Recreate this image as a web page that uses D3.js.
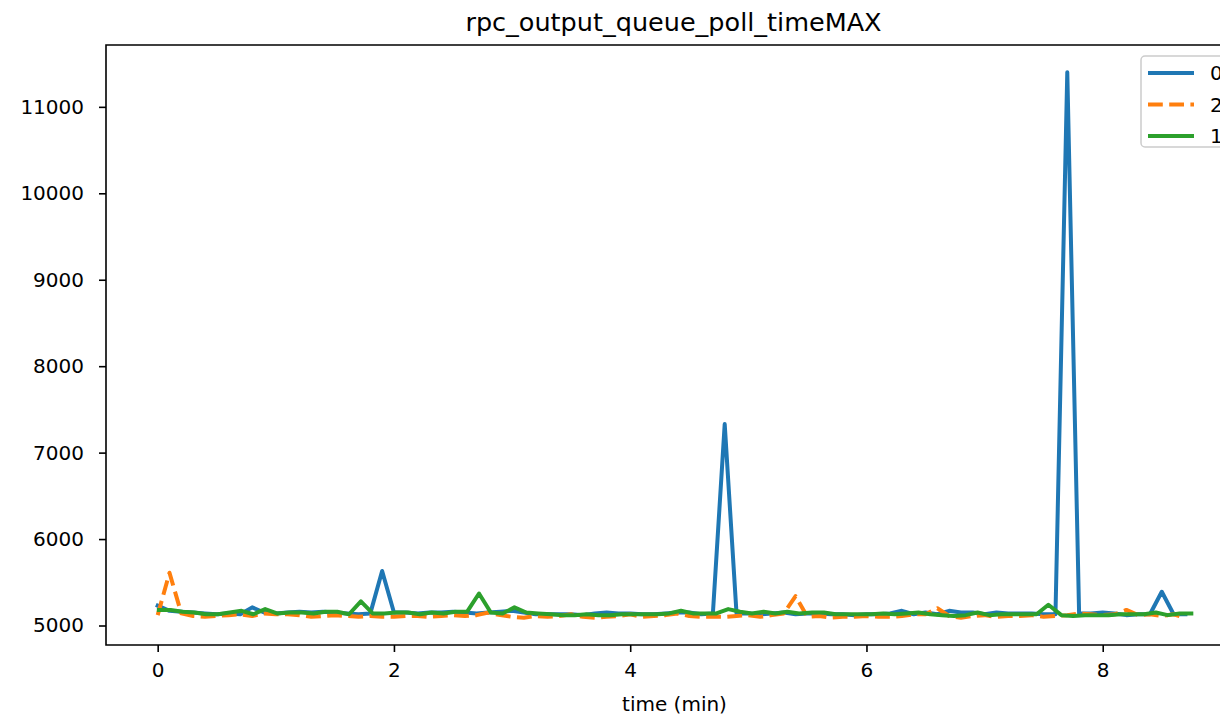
<!DOCTYPE html>
<html>
<head>
<meta charset="utf-8">
<script src="https://cdn.jsdelivr.net/npm/d3@7"></script>
<style>
  html, body { margin: 0; padding: 0; background: #ffffff; }
  svg { display: block; font-family: "DejaVu Sans", sans-serif; }
</style>
</head>
<body>
<svg id="chart" width="1220" height="715"></svg>
<script>
const chartTitle = "rpc_output_queue_poll_timeMAX";
const xLabel = "time (min)";
const seriesNames = ["0", "2", "1"];
const seriesColors = ["#1f77b4", "#ff7f0e", "#2ca02c"];
const xTicks = [0, 2, 4, 6, 8];
const yTicks = [5000, 6000, 7000, 8000, 9000, 10000, 11000];

// time (min) for series "0" and "2"
const timesA = [0, 0.1, 0.2, 0.3, 0.4, 0.5, 0.6, 0.7, 0.8, 0.9,
  1.0, 1.1, 1.2, 1.3, 1.4, 1.5, 1.6, 1.7, 1.8, 1.9,
  2.0, 2.1, 2.2, 2.3, 2.4, 2.5, 2.6, 2.7, 2.8, 2.9,
  3.0, 3.1, 3.2, 3.3, 3.4, 3.5, 3.6, 3.7, 3.8, 3.9,
  4.0, 4.1, 4.2, 4.3, 4.4, 4.5, 4.6, 4.7, 4.8, 4.9,
  5.0, 5.1, 5.2, 5.3, 5.4, 5.5, 5.6, 5.7, 5.8, 5.9,
  6.0, 6.1, 6.2, 6.3, 6.4, 6.5, 6.6, 6.7, 6.8, 6.9,
  7.0, 7.1, 7.2, 7.3, 7.4, 7.5, 7.6, 7.7, 7.8, 7.9,
  8.0, 8.1, 8.2, 8.3, 8.4, 8.5, 8.6, 8.7];

// time (min) for series "1"
const timesB = [0.01, 0.11, 0.21, 0.31, 0.41, 0.51, 0.61, 0.71, 0.81, 0.91,
  1.01, 1.12, 1.22, 1.32, 1.42, 1.52, 1.62, 1.72, 1.82, 1.92,
  2.02, 2.12, 2.22, 2.32, 2.42, 2.52, 2.62, 2.72, 2.82, 2.92,
  3.02, 3.12, 3.22, 3.33, 3.43, 3.53, 3.63, 3.73, 3.83, 3.93,
  4.03, 4.13, 4.23, 4.33, 4.43, 4.53, 4.63, 4.73, 4.83, 4.93,
  5.03, 5.13, 5.23, 5.33, 5.43, 5.54, 5.64, 5.74, 5.84, 5.94,
  6.04, 6.14, 6.24, 6.34, 6.44, 6.54, 6.64, 6.74, 6.84, 6.94,
  7.04, 7.14, 7.24, 7.34, 7.44, 7.54, 7.65, 7.75, 7.85, 7.95,
  8.05, 8.15, 8.25, 8.35, 8.45, 8.55, 8.65, 8.75];

const values0 = [5230, 5170, 5160, 5150, 5140, 5130, 5140, 5130, 5210, 5150,
  5140, 5150, 5160, 5150, 5160, 5150, 5140, 5130, 5140, 5630,
  5150, 5150, 5140, 5150, 5150, 5160, 5150, 5140, 5150, 5160,
  5170, 5150, 5130, 5130, 5130, 5130, 5120, 5140, 5150, 5140,
  5140, 5130, 5130, 5140, 5150, 5150, 5130, 5140, 7330, 5140,
  5140, 5130, 5140, 5150, 5130, 5140, 5140, 5130, 5130, 5120,
  5130, 5130, 5140, 5170, 5130, 5150, 5130, 5170, 5150, 5150,
  5130, 5150, 5140, 5140, 5140, 5130, 5130, 11400, 5140, 5140,
  5150, 5140, 5120, 5130, 5130, 5390, 5130, 5130];

const values2 = [5120, 5610, 5140, 5110, 5100, 5110, 5120, 5130, 5110, 5140,
  5130, 5130, 5120, 5100, 5110, 5120, 5110, 5100, 5110, 5100,
  5100, 5110, 5110, 5100, 5110, 5120, 5110, 5120, 5150, 5120,
  5100, 5090, 5110, 5100, 5110, 5130, 5100, 5090, 5100, 5110,
  5130, 5100, 5110, 5120, 5140, 5110, 5100, 5100, 5100, 5110,
  5120, 5100, 5120, 5140, 5340, 5100, 5110, 5090, 5100, 5100,
  5110, 5100, 5100, 5110, 5130, 5130, 5200, 5110, 5090, 5110,
  5120, 5100, 5110, 5110, 5120, 5100, 5110, 5120, 5140, 5130,
  5120, 5130, 5180, 5120, 5130, 5110, 5130, 5090];

const values1 = [5180, 5180, 5160, 5150, 5130, 5130, 5150, 5170, 5130, 5190,
  5140, 5150, 5150, 5140, 5160, 5160, 5130, 5280, 5140, 5140,
  5150, 5150, 5130, 5150, 5140, 5160, 5160, 5370, 5150, 5140,
  5210, 5150, 5140, 5130, 5120, 5120, 5130, 5120, 5120, 5130,
  5130, 5130, 5130, 5140, 5170, 5140, 5140, 5140, 5190, 5160,
  5140, 5160, 5140, 5160, 5140, 5150, 5150, 5130, 5130, 5130,
  5130, 5140, 5130, 5140, 5150, 5130, 5120, 5110, 5120, 5150,
  5120, 5130, 5130, 5130, 5130, 5240, 5120, 5110, 5120, 5120,
  5120, 5130, 5130, 5130, 5150, 5120, 5140, 5140];

const series = [
  { name: seriesNames[0], color: seriesColors[0], dash: null, times: timesA, values: values0 },
  { name: seriesNames[1], color: seriesColors[1], dash: "14.8,6.4", times: timesA, values: values2 },
  { name: seriesNames[2], color: seriesColors[2], dash: null, times: timesB, values: values1 }
];

const svg = d3.select("#chart");
const plot = { left: 106, top: 45, bottom: 645, right: 1243 };

const allT = series.flatMap(s => s.times);
const allV = series.flatMap(s => s.values);
const [tMin, tMax] = d3.extent(allT);
const [vMin, vMax] = d3.extent(allV);
const tPad = (tMax - tMin) * 0.05, vPad = (vMax - vMin) * 0.05;

const x = d3.scaleLinear().domain([tMin - tPad, tMax + tPad]).range([plot.left, plot.right]);
const y = d3.scaleLinear().domain([vMin - vPad, vMax + vPad]).range([plot.bottom, plot.top]);

svg.append("defs").append("clipPath").attr("id", "clip")
  .append("rect").attr("x", plot.left).attr("y", plot.top)
  .attr("width", plot.right - plot.left).attr("height", plot.bottom - plot.top);

// lines
const line = d3.line().x(d => x(d[0])).y(d => y(d[1]));
const lines = svg.append("g").attr("clip-path", "url(#clip)");
series.forEach(s => {
  const pts = s.times.map((t, i) => [t, s.values[i]]);
  lines.append("path").datum(pts)
    .attr("d", line)
    .attr("fill", "none")
    .attr("stroke", s.color)
    .attr("stroke-width", 4)
    .attr("stroke-linejoin", "round")
    .attr("stroke-linecap", s.dash ? "butt" : "square")
    .attr("stroke-dasharray", s.dash);
});

// axes
const xAxis = d3.axisBottom(x).tickValues(xTicks).tickFormat(d3.format("d")).tickSizeOuter(0).tickSize(7).tickPadding(11);
const yAxis = d3.axisLeft(y).tickValues(yTicks).tickFormat(d3.format("d")).tickSizeOuter(0).tickSize(7).tickPadding(15);

const gx = svg.append("g").attr("transform", `translate(0,${plot.bottom})`).call(xAxis);
const gy = svg.append("g").attr("transform", `translate(${plot.left},0)`).call(yAxis);
[gx, gy].forEach(g => {
  g.select(".domain").remove();
  g.selectAll(".tick line").attr("stroke", "#000").attr("stroke-width", 1.6);
  g.selectAll(".tick text").attr("fill", "#000").style("font-size", "20px").style("font-family", "DejaVu Sans");
});

// spines
svg.append("path")
  .attr("d", `M${plot.right},${plot.top}H${plot.left}V${plot.bottom}H${plot.right}`)
  .attr("fill", "none").attr("stroke", "#000").attr("stroke-width", 1.6);

// title & label
svg.append("text").attr("x", (plot.left + plot.right) / 2 - 1).attr("y", 31)
  .attr("text-anchor", "middle").style("font-size", "25.5px").text(chartTitle);
svg.append("text").attr("x", (plot.left + plot.right) / 2).attr("y", 711)
  .attr("text-anchor", "middle").style("font-size", "20px").text(xLabel);

// legend
const lg = svg.append("g");
lg.append("rect").attr("x", 1141).attr("y", 56).attr("width", 92).attr("height", 91)
  .attr("rx", 4).attr("fill", "#fff").attr("fill-opacity", 0.8)
  .attr("stroke", "#cccccc").attr("stroke-width", 1.5);
series.forEach((s, i) => {
  const yy = 73 + i * 31.5;
  lg.append("line").attr("x1", 1148).attr("x2", 1194).attr("y1", yy).attr("y2", yy)
    .attr("stroke", s.color).attr("stroke-width", 4).attr("stroke-dasharray", s.dash);
  lg.append("text").attr("x", 1210).attr("y", yy + 7).style("font-size", "20px").text(s.name);
});
</script>
</body>
</html>
